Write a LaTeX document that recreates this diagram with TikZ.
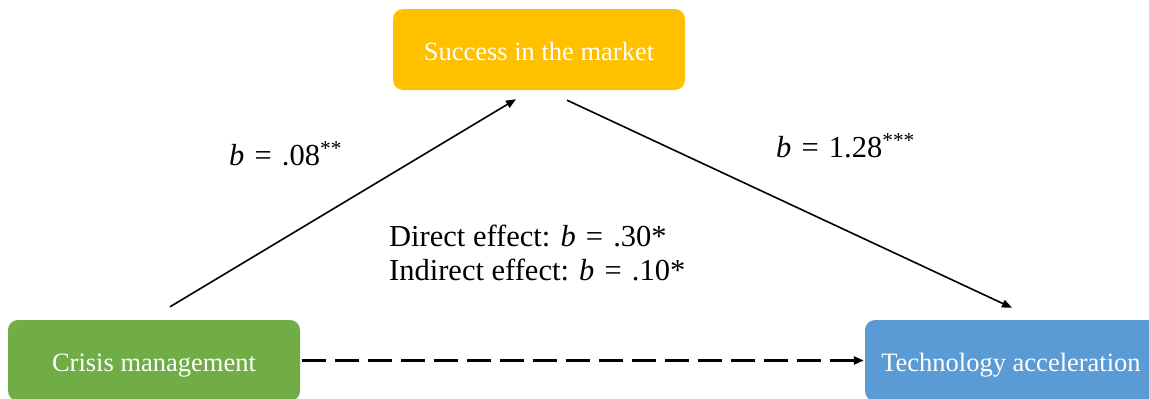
\documentclass[tikz,border=0pt]{standalone}
\usepackage{fontspec}
\setmainfont{Liberation Serif}
\usetikzlibrary{arrows.meta, positioning}

\definecolor{mktorange}{HTML}{FFC000}
\definecolor{crisisgreen}{HTML}{70AD47}
\definecolor{techblue}{HTML}{5B9BD5}

\begin{document}
\begin{tikzpicture}[x=1pt, y=-1pt,   % define 'varbox' here
    varbox/.style={
        rectangle,
        rounded corners=10pt,
        minimum width=292pt,
        minimum height=81pt,
        text=white,
        text height=21pt,
        text depth=0pt,
        font=\fontsize{26.5}{30}\selectfont
    },
    coef/.style={
        anchor=base west,
        inner sep=0pt,
        font=\fontsize{30.5}{34}\selectfont
    },
    path/.style={
        line width=1.6pt,
        -{Triangle[length=10pt, width=8pt]}
    }
]
    \clip (0,0) rectangle (1149,399);

    % 1. The mediator
    \node [varbox, fill=mktorange] (Success) at (539,49.5) {Success in the market};

    % 2. Predictor and outcome
    \node [varbox, fill=crisisgreen] (Crisis) at (154,360.5) {Crisis management};
    \node [varbox, fill=techblue] (Tech) at (1011,360.5) {Technology acceleration};

    % The Paths
    \draw [path] ([xshift=16pt, yshift=13pt]Crisis.north) -- ([xshift=-23pt, yshift=-9pt]Success.south);
    \draw [path] ([xshift=28pt, yshift=-10pt]Success.south) -- ([xshift=1pt, yshift=12pt]Tech.north);
    \draw [path, line width=2.4pt, dash pattern=on 24pt off 9pt] ([xshift=2pt]Crisis.east) -- ([xshift=-1pt]Tech.west);

    % 3. The coefficients
    \node [coef] (aPath) at (229,165) {\textit{b}\,\,=\,\,.08\textsuperscript{**}};
    \node [coef] (bPath) at (776,157) {\textit{b}\,\,=\,\,1.28\textsuperscript{***}};
    \node [coef, anchor=north west, align=left] (Effects) at (389,225) {
        Direct effect: \textit{b}\,\,=\,\,.30*\\
        Indirect effect: \textit{b}\,\,=\,\,.10*
    };

\end{tikzpicture}
\end{document}
